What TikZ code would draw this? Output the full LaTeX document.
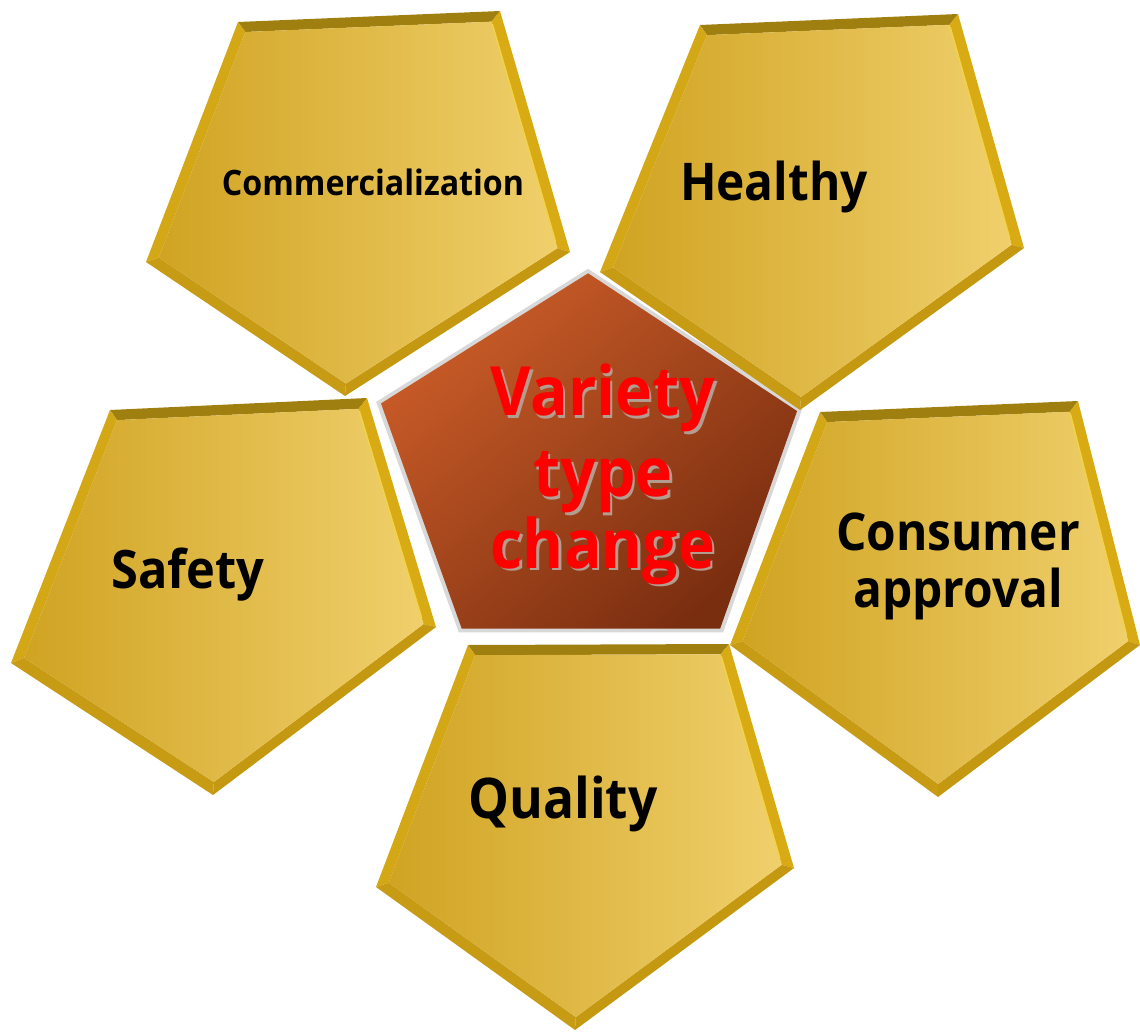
\documentclass[tikz,border=0pt]{standalone}
\usepackage{fontspec}
\setmainfont{Open Sans}[FakeStretch=0.92]
\usetikzlibrary{calc}

\definecolor{bevTop}{HTML}{9E7F0F}
\definecolor{bevRight}{HTML}{D8AA14}
\definecolor{bevHi}{HTML}{F2D24A}
\definecolor{bevBR}{HTML}{C49810}
\definecolor{bevBL}{HTML}{C79B13}
\definecolor{bevLeft}{HTML}{D4A717}
\definecolor{goldA}{HTML}{D0A322}
\definecolor{goldB}{HTML}{F0D06C}
\definecolor{brownA}{HTML}{CA5C28}
\definecolor{brownB}{HTML}{7A2E10}
\definecolor{rimGray}{HTML}{D8D8D8}
\definecolor{titleRed}{HTML}{FF0000}
\definecolor{shadowGray}{HTML}{B39C90}

% red title word with a soft grey drop shadow behind it
\newcommand\dropshadowed[1]{\leavevmode\rlap{\kern2.5pt\raisebox{-2.5pt}{\color{shadowGray}#1}}#1}

\tikzset{
  goldface/.style={left color=goldA, right color=goldB},
  tilelabel/.style={font=\bfseries, text=black, inner sep=0pt, anchor=base, align=center},
  titletext/.style={font=\bfseries\fontsize{68}{70}\selectfont, text=titleRed, inner sep=0pt, anchor=base, align=center},
}

% A bevelled gold pentagon: name, then its five outer corners
% (top-left, top-right, right, bottom, left).
\newcommand\goldtile[6]{%
  \coordinate (#1-1) at #2;
  \coordinate (#1-2) at #3;
  \coordinate (#1-3) at #4;
  \coordinate (#1-4) at #5;
  \coordinate (#1-5) at #6;
  \coordinate (#1-c) at ($0.2*(#1-1)+0.2*(#1-2)+0.2*(#1-3)+0.2*(#1-4)+0.2*(#1-5)$);
  \foreach \k in {1,...,5}{\coordinate (#1-i\k) at ($(#1-\k)!0.06!(#1-c)$);}
  \fill[bevTop]   (#1-1) -- (#1-2) -- (#1-i2) -- (#1-i1) -- cycle;
  \fill[bevRight] (#1-2) -- (#1-3) -- (#1-i3) -- (#1-i2) -- cycle;
  \fill[bevBR]    (#1-3) -- (#1-4) -- (#1-i4) -- (#1-i3) -- cycle;
  \fill[bevBL]    (#1-4) -- (#1-5) -- (#1-i5) -- (#1-i4) -- cycle;
  \fill[bevLeft]  (#1-5) -- (#1-1) -- (#1-i1) -- (#1-i5) -- cycle;
  \shade[goldface] (#1-i1) -- (#1-i2) -- (#1-i3) -- (#1-i4) -- (#1-i5) -- cycle;
  \draw[bevHi, line width=1.5pt] ($(#1-i2)!0.01!(#1-i3)$) -- ($(#1-i3)!0.03!(#1-i2)$);
}

\begin{document}
\begin{tikzpicture}[x=1pt, y=-1pt]
\useasboundingbox (0,0) rectangle (1140,1033);

% outer tiles
\goldtile{com}{(238,22)}{(500,11)}{(570,252)}{(345,396)}{(146,262)}
\node[tilelabel, font=\bfseries\fontsize{35}{40}\selectfont] (comlbl) at (373,195) {Commercialization};

\goldtile{con}{(820,412)}{(1078,401)}{(1140,645)}{(938,797)}{(730,645)}
\node[tilelabel, font=\bfseries\fontsize{52}{57}\selectfont] (conlbl) at (958,607) {Consumer\\approval};

\goldtile{qua}{(468,645)}{(729,644)}{(794,868)}{(575,1030)}{(376,887)}
\node[tilelabel, font=\bfseries\fontsize{56}{60}\selectfont] (qualbl) at (563,818) {Quality};

\goldtile{saf}{(110,410)}{(367,398)}{(436,627)}{(213,795)}{(11,663)}
\node[tilelabel, font=\bfseries\fontsize{53}{58}\selectfont] (saflbl) at (188,588) {Safety};

% central pentagon with its light rim
\coordinate (m1) at (588,263);
\coordinate (m2) at (808,408);
\coordinate (m3) at (727,637);
\coordinate (m4) at (455,637);
\coordinate (m5) at (370,400);
\coordinate (mc) at ($0.2*(m1)+0.2*(m2)+0.2*(m3)+0.2*(m4)+0.2*(m5)$);
\foreach \k in {1,...,5}{
  \coordinate (mg\k) at ($(m\k)!0.028!(mc)$);
  \coordinate (mb\k) at ($(m\k)!0.05!(mc)$);
}
\fill[white] (m1) -- (m2) -- (m3) -- (m4) -- (m5) -- cycle;
\fill[rimGray] (mg1) -- (mg2) -- (mg3) -- (mg4) -- (mg5) -- cycle;
\shade[top color=brownA, bottom color=brownB, shading angle=40]
  (mb1) -- (mb2) -- (mb3) -- (mb4) -- (mb5) -- cycle;

\goldtile{hea}{(700,25)}{(958,14)}{(1024,248)}{(800,410)}{(600,272)}
\node[tilelabel, font=\bfseries\fontsize{52}{56}\selectfont] (healbl) at (774,200) {Healthy};

% title (anchored on the baseline of its last line)
\node[titletext] (title) at (603,568)
  {\dropshadowed{Variety}\\[11pt]\dropshadowed{type}\\\dropshadowed{change}};
\end{tikzpicture}
\end{document}
